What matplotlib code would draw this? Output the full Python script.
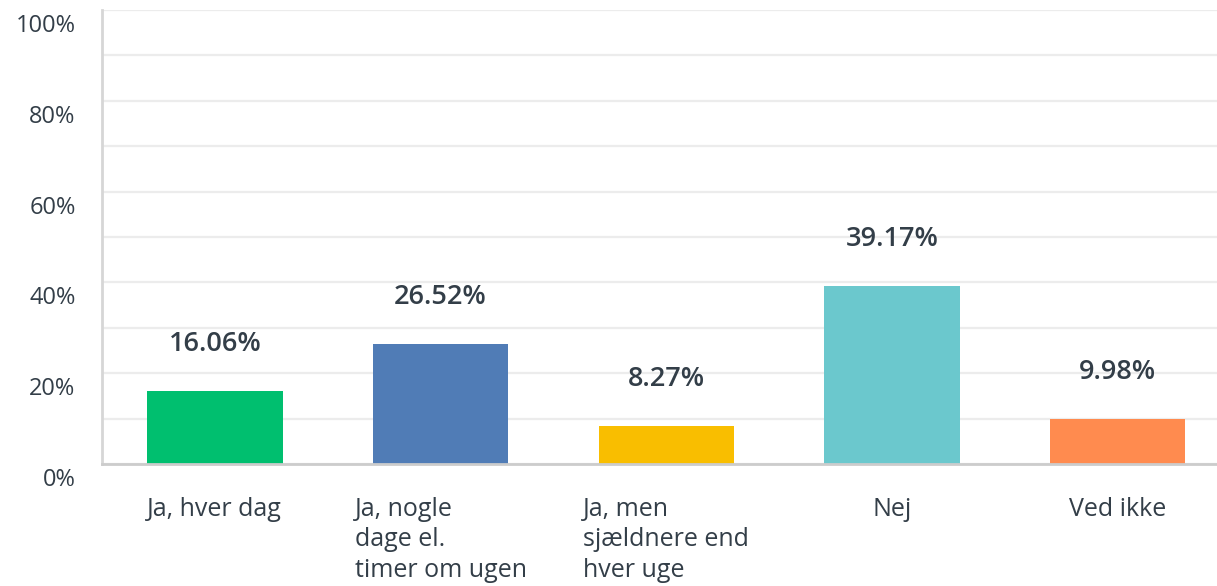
import matplotlib.pyplot as plt
import matplotlib.transforms as mtransforms

# Data
kategorier = ["Ja, hver dag", "Ja, nogle\ndage el.\ntimer om ugen",
              "Ja, men\nsjældnere end\nhver uge", "Nej", "Ved ikke"]
andele = [16.06, 26.52, 8.27, 39.17, 9.98]
farver = ["#00BF6F", "#507CB6", "#F9BE00", "#6BC8CD", "#FF8B4F"]
y_ticks = [0, 20, 40, 60, 80, 100]

plt.rcParams['font.family'] = ['Open Sans', 'DejaVu Sans']

fig = plt.figure(figsize=(12.17, 5.86), dpi=100)
ax = fig.add_axes([102 / 1217, 1 - 464 / 586, 1 - 102 / 1217, (464 - 10) / 586])

x = range(len(kategorier))
ax.bar(x, andele, width=0.6, color=farver, zorder=3)

# Værdier over søjlerne
for i, v in enumerate(andele):
    ax.annotate(f"{v:.2f}%", (i, v), xytext=(0, 47), textcoords='offset pixels',
                ha='center', va='center', fontsize=19.5, fontweight='semibold',
                color='#333e48')

ax.set_xlim(-0.5, 4.44)
ax.set_ylim(0, 100)

# Gitterlinjer hver 10%
ax.set_yticks(y_ticks)
ax.set_yticks(range(10, 100, 20), minor=True)
ax.set_yticklabels([f"{t}%" for t in y_ticks], fontsize=17, color='#333e48')
ax.grid(axis='y', which='both', color='#ececec', linewidth=1.6, zorder=0)
ax.tick_params(axis='y', which='both', length=0, pad=19)

# Flyt y-etiketter lidt ned
offset = mtransforms.ScaledTranslation(0, -13 / 100, fig.dpi_scale_trans)
for lbl in ax.get_yticklabels():
    lbl.set_transform(lbl.get_transform() + offset)

ax.set_xticks(list(x))
ax.set_xticklabels(kategorier, fontsize=18, color='#333e48',
                   multialignment='left', linespacing=1.27)
ax.tick_params(axis='x', length=0, pad=24)

for side in ['top', 'right']:
    ax.spines[side].set_visible(False)
ax.spines['left'].set_color('#d6d6d6')
ax.spines['left'].set_linewidth(2)
ax.spines['bottom'].set_color('#cccccc')
ax.spines['bottom'].set_linewidth(2)
ax.spines['bottom'].set_zorder(4)

fig.savefig('out.png', dpi=100)
